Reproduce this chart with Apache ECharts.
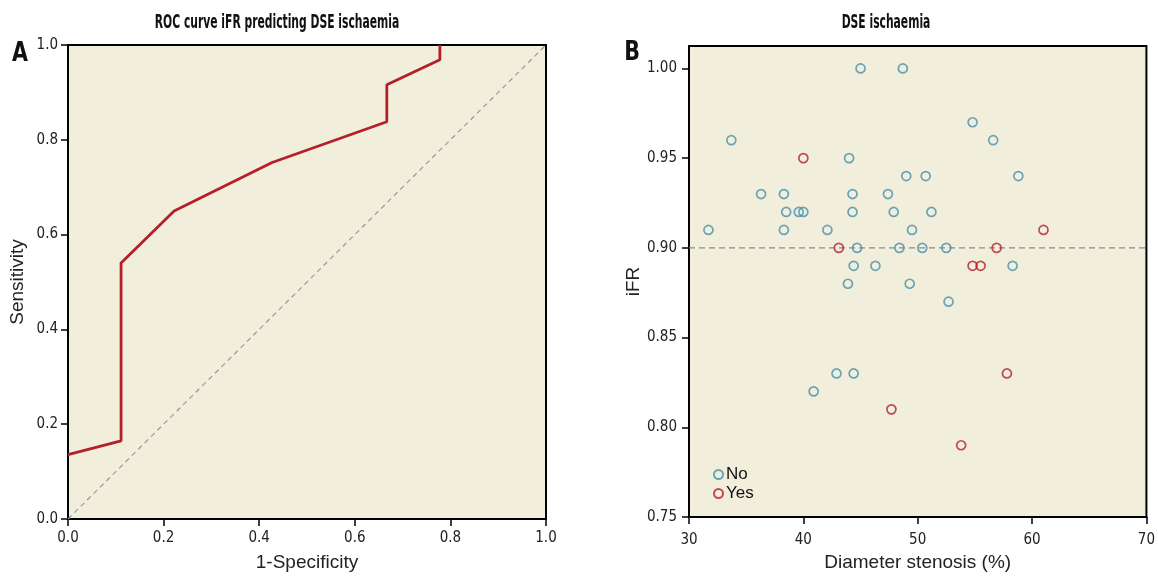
<!DOCTYPE html>
<html><head><meta charset="utf-8">
<script src="https://cdn.jsdelivr.net/npm/echarts@6/dist/echarts.min.js"></script>
<style>html,body{margin:0;padding:0;background:#fff}#c{width:1158px;height:577px}</style>
</head><body><div id="c"></div>
<script>
// Panel A: ROC curve
const rocFpr = [0, 0.111, 0.111, 0.222, 0.427, 0.667, 0.667, 0.778, 0.778];
const rocTpr = [0.136, 0.165, 0.540, 0.650, 0.752, 0.838, 0.916, 0.969, 1.0];
const chanceFpr = [0, 1];
const chanceTpr = [0, 1];

// Panel B: scatter (diameter stenosis %, iFR)
const noStenosis = [45.0,48.7,33.7,44.0,54.8,56.6,49.0,50.7,58.8,36.3,38.3,44.3,47.4,38.5,39.6,40.0,44.3,47.9,51.2,31.7,38.3,42.1,49.5,44.7,48.4,50.4,52.5,44.4,46.3,58.3,43.9,49.3,52.7,42.9,44.4,40.9];
const noIFR      = [1.00,1.00,0.96,0.95,0.97,0.96,0.94,0.94,0.94,0.93,0.93,0.93,0.93,0.92,0.92,0.92,0.92,0.92,0.92,0.91,0.91,0.91,0.91,0.90,0.90,0.90,0.90,0.89,0.89,0.89,0.88,0.88,0.87,0.83,0.83,0.82];
const yesStenosis = [40.0,43.1,61.0,56.9,54.8,55.5,47.7,57.8,53.8];
const yesIFR      = [0.95,0.90,0.91,0.90,0.89,0.89,0.81,0.83,0.79];
const cutoffX = [30, 70];
const cutoffY = [0.90, 0.90];

const zip = (a, b) => a.map((v, i) => [v, b[i]]);

const BG = '#F2EEDC';
const RED = '#B3202A';
const BLUE = '#4392AD';
const NARROW = "'Liberation Sans Narrow', 'DejaVu Sans Condensed', sans-serif";
const SANS = "'Liberation Sans', Arial, sans-serif";

const tickLabel = {color: '#222', fontFamily: NARROW, fontSize: 15};
const axisLine = {show: true, lineStyle: {color: '#000', width: 2}};
const axisTick = {show: true, length: 7, lineStyle: {color: '#000', width: 1.5}};
const nameStyle = {color: '#222', fontFamily: SANS, fontSize: 19};

const chart = echarts.init(document.getElementById('c'), null, {renderer: 'canvas'});
chart.setOption({
  animation: false,
  backgroundColor: '#fff',
  graphic: [
    {type: 'text', x: 277, y: 23, scaleX: 0.63, style: {text: 'ROC curve iFR predicting DSE ischaemia', font: "bold 19px " + NARROW, fill: '#111', align: 'center', verticalAlign: 'middle'}},
    {type: 'text', x: 886, y: 23, scaleX: 0.63, style: {text: 'DSE ischaemia', font: "bold 19px " + NARROW, fill: '#111', align: 'center', verticalAlign: 'middle'}},
    {type: 'text', x: 20, y: 54, scaleX: 0.85, style: {text: 'A', font: "bold 27px " + NARROW, fill: '#111', align: 'center', verticalAlign: 'middle'}},
    {type: 'text', x: 632, y: 53, scaleX: 0.85, style: {text: 'B', font: "bold 27px " + NARROW, fill: '#111', align: 'center', verticalAlign: 'middle'}}
  ],
  grid: [
    {left: 68, top: 45, width: 478, height: 478, show: true, backgroundColor: BG, borderColor: '#000', borderWidth: 2, containLabel: false},
    {left: 689, top: 46, width: 459, height: 477, show: true, backgroundColor: BG, borderColor: '#000', borderWidth: 2, containLabel: false}
  ],
  legend: {
    data: ['No', 'Yes'],
    orient: 'vertical',
    left: 713, top: 466,
    itemWidth: 9, itemHeight: 9, itemGap: 2,
    textStyle: {fontFamily: SANS, fontSize: 17, color: '#111', padding: [0, 0, 0, -2]},
    padding: 0
  },
  xAxis: [
    {gridIndex: 0, type: 'value', min: 0, max: 1, interval: 0.2,
     name: '1-Specificity', nameLocation: 'middle', nameGap: 34, nameTextStyle: nameStyle,
     axisLine, axisTick, splitLine: {show: false},
     axisLabel: Object.assign({margin: 12, formatter: v => v.toFixed(1)}, tickLabel)},
    {gridIndex: 1, type: 'value', min: 30, max: 70, interval: 10,
     name: 'Diameter stenosis (%)', nameLocation: 'middle', nameGap: 36, nameTextStyle: nameStyle,
     axisLine, axisTick, splitLine: {show: false},
     axisLabel: Object.assign({margin: 16}, tickLabel)}
  ],
  yAxis: [
    {gridIndex: 0, type: 'value', min: 0, max: 1, interval: 0.2,
     name: 'Sensitivity', nameLocation: 'middle', nameGap: 41, nameTextStyle: nameStyle,
     axisLine, axisTick, splitLine: {show: false},
     axisLabel: Object.assign({margin: 10, formatter: v => v.toFixed(1)}, tickLabel)},
    {gridIndex: 1, type: 'value', min: 0.75, max: 1.0125, interval: 0.05,
     name: 'iFR', nameLocation: 'middle', nameGap: 46, nameTextStyle: nameStyle,
     axisLine, axisTick, splitLine: {show: false},
     axisLabel: Object.assign({margin: 12, showMaxLabel: false,
       formatter: v => (Math.abs(v * 20 - Math.round(v * 20)) < 1e-6 ? v.toFixed(2) : '')}, tickLabel)}
  ],
  series: [
    {type: 'line', xAxisIndex: 0, yAxisIndex: 0, data: zip(chanceFpr, chanceTpr), symbol: 'none',
     lineStyle: {color: '#999', width: 1.2, type: [5, 4]}, silent: true, z: 1},
    {type: 'line', xAxisIndex: 0, yAxisIndex: 0, data: zip(rocFpr, rocTpr), symbol: 'none',
     lineStyle: {color: RED, width: 2.8}, z: 3},
    {type: 'line', xAxisIndex: 1, yAxisIndex: 1, data: zip(cutoffX, cutoffY), symbol: 'none',
     lineStyle: {color: '#8a8a8a', width: 1.3, type: [6, 4]}, silent: true, z: 1},
    {name: 'No', type: 'scatter', xAxisIndex: 1, yAxisIndex: 1, data: zip(noStenosis, noIFR),
     symbol: 'circle', symbolSize: 9, itemStyle: {color: 'rgba(0,0,0,0)', borderColor: BLUE, borderWidth: 1.7}, z: 3},
    {name: 'Yes', type: 'scatter', xAxisIndex: 1, yAxisIndex: 1, data: zip(yesStenosis, yesIFR),
     symbol: 'circle', symbolSize: 9, itemStyle: {color: 'rgba(0,0,0,0)', borderColor: RED, borderWidth: 1.7}, z: 3}
  ]
});
</script></body></html>
